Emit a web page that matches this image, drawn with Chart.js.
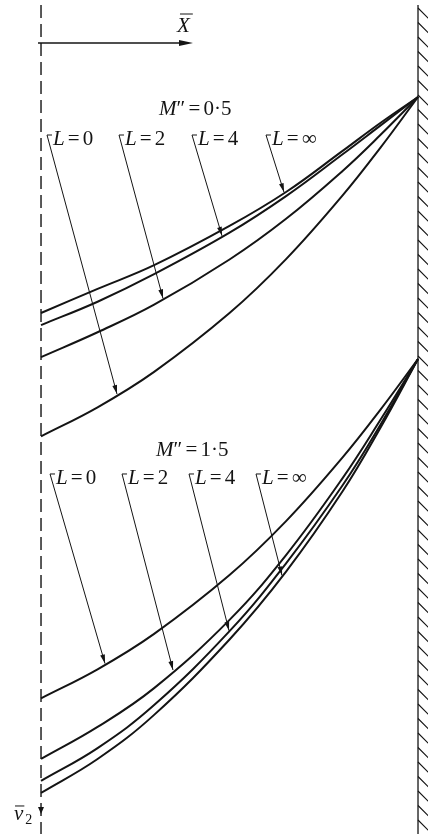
<!DOCTYPE html>
<html>
<head>
<meta charset="utf-8">
<script src="https://cdn.jsdelivr.net/npm/chart.js@4/dist/chart.umd.min.js"></script>
<style>
  html, body { margin: 0; padding: 0; background: #fff; }
  #wrap { position: relative; width: 428px; height: 834px; }
</style>
</head>
<body>
<div id="wrap"><canvas id="c"></canvas></div>
<script>
// Stations across the half-channel: 0 = centre line, 1 = wall
const xStations = [0, 0.15, 0.3, 0.5, 0.65, 0.8, 0.9, 1.0];

// Velocity defect below the wall value (in channel half-widths), M'' = 0.5
const m05_L0   = [0.900, 0.823, 0.729, 0.573, 0.430, 0.261, 0.135, 0];
const m05_L2   = [0.690, 0.624, 0.551, 0.431, 0.323, 0.196, 0.101, 0];
const m05_L4   = [0.605, 0.543, 0.470, 0.360, 0.263, 0.152, 0.076, 0];
const m05_Linf = [0.573, 0.509, 0.446, 0.342, 0.252, 0.143, 0.069, 0];

// Same profiles for M'' = 1.5
const m15_L0   = [0.900, 0.823, 0.729, 0.573, 0.430, 0.261, 0.135, 0];
const m15_L2   = [1.061, 0.976, 0.873, 0.692, 0.520, 0.316, 0.162, 0];
const m15_L4   = [1.119, 1.032, 0.918, 0.722, 0.542, 0.335, 0.175, 0];
const m15_Linf = [1.151, 1.061, 0.944, 0.744, 0.564, 0.351, 0.183, 0];

const curveNames = ['0', '2', '4', '\u221E'];        // values of L
const groupNames = ['0\u00B75', '1\u00B75'];         // values of M''

// Where each labelled arrow meets its curve (x station)
const m05_arrowTips = [0.2016, 0.3236, 0.4801, 0.6446];
const m15_arrowTips = [0.1698, 0.3501, 0.4987, 0.6393];

// ---- layout of the annotations (data units on each group's axes) ----
const groups = [
  { axis: 'yTop', name: groupNames[0], series: [m05_L0, m05_L2, m05_L4, m05_Linf],
    tips: m05_arrowTips, titleX: 0.313, titleY: 0.0477,
    tagX: [0.0159, 0.2069, 0.4005, 0.5968], tagY: 0.1008 },
  { axis: 'yBot', name: groupNames[1], series: [m15_L0, m15_L2, m15_L4, m15_Linf],
    tips: m15_arrowTips, titleX: 0.305, titleY: 0.2573,
    tagX: [0.0239, 0.2149, 0.3926, 0.5703], tagY: 0.3050 }
];

const ink = '#141414';
const serif = '"Liberation Serif", "Times New Roman", "DejaVu Serif", serif';

function valueAt(xs, ys, x) {
  for (let i = 0; i < xs.length - 1; i++) {
    if (x >= xs[i] && x <= xs[i + 1]) {
      const t = (x - xs[i]) / (xs[i + 1] - xs[i]);
      return ys[i] + t * (ys[i + 1] - ys[i]);
    }
  }
  return ys[ys.length - 1];
}

function arrowHead(ctx, x1, y1, x2, y2, len, half) {
  const a = Math.atan2(y2 - y1, x2 - x1);
  const c = Math.cos(a), s = Math.sin(a);
  ctx.beginPath();
  ctx.moveTo(x2, y2);
  ctx.lineTo(x2 - len * c + half * s, y2 - len * s - half * c);
  ctx.lineTo(x2 - len * c - half * s, y2 - len * s + half * c);
  ctx.closePath();
  ctx.fill();
}

// draw a run of [text, italic, gapAfterEm] pieces starting at x, baseline y
function richText(ctx, x, y, size, parts) {
  let cx = x;
  for (const [txt, ital, gap] of parts) {
    ctx.font = (ital ? 'italic ' : '') + size + 'px ' + serif;
    ctx.fillText(txt, cx, y);
    cx += ctx.measureText(txt).width + (gap || 0) * size;
  }
  return cx;
}

const annotations = {
  id: 'annotations',
  afterDatasetsDraw(chart) {
    const { ctx, scales } = chart;
    const xs = scales.x, yT = scales.yTop, yB = scales.yBot;
    const H = chart.height;
    ctx.save();
    ctx.fillStyle = ink;
    ctx.strokeStyle = ink;
    ctx.textBaseline = 'alphabetic';
    ctx.textAlign = 'left';

    // centre line (dashed)
    const cx = xs.getPixelForValue(0);
    ctx.lineWidth = 1.4;
    ctx.setLineDash([13, 6]);
    ctx.beginPath();
    ctx.moveTo(cx, 5);
    ctx.lineTo(cx, H);
    ctx.stroke();
    ctx.setLineDash([]);

    // wall with hatching
    const wx = xs.getPixelForValue(1);
    ctx.lineWidth = 1.3;
    ctx.beginPath();
    ctx.moveTo(wx, 5);
    ctx.lineTo(wx, H);
    ctx.stroke();
    ctx.lineWidth = 1.1;
    ctx.beginPath();
    for (let y = 8; y < H; y += 14.5) {
      ctx.moveTo(wx, y);
      ctx.lineTo(wx + 12, y + 12);
    }
    ctx.stroke();

    // X direction arrow and label
    const ay = yT.getPixelForValue(-0.1432);
    const ax2 = xs.getPixelForValue(0.4032);
    ctx.lineWidth = 1.4;
    ctx.beginPath();
    ctx.moveTo(cx - 3, ay);
    ctx.lineTo(ax2 - 8, ay);
    ctx.stroke();
    arrowHead(ctx, cx, ay, ax2, ay, 14, 3);
    const Xx = xs.getPixelForValue(0.3607);
    const Xy = yT.getPixelForValue(-0.1724);
    ctx.font = 'italic 21px ' + serif;
    ctx.fillText('X', Xx, Xy);
    const xw = ctx.measureText('X').width;
    ctx.lineWidth = 1;
    ctx.beginPath();
    ctx.moveTo(Xx + 3, Xy - 18);
    ctx.lineTo(Xx + xw + 3, Xy - 18);
    ctx.stroke();

    // v2 label and its arrow on the centre line
    const vx = xs.getPixelForValue(-0.0716);
    const vy = yB.getPixelForValue(1.2228);
    ctx.font = 'italic 21px ' + serif;
    ctx.fillText('v', vx, vy);
    const vw = ctx.measureText('v').width;
    ctx.beginPath();
    ctx.moveTo(vx + 1, vy - 14);
    ctx.lineTo(vx + vw + 1, vy - 14);
    ctx.stroke();
    ctx.font = '14px ' + serif;
    ctx.fillText('2', vx + vw + 2, vy + 4);
    arrowHead(ctx, cx, vy - 14, cx, vy - 6, 7, 3);

    // group titles, curve tags and leader arrows
    for (const g of groups) {
      const ys = scales[g.axis];
      richText(ctx, xs.getPixelForValue(g.titleX), ys.getPixelForValue(g.titleY), 21,
        [['M', true, 0], ['\u2033', false, 0.15], ['=', false, 0.15], [g.name, false, 0]]);
      for (let i = 0; i < 4; i++) {
        const bx = xs.getPixelForValue(g.tagX[i]);
        const by = ys.getPixelForValue(g.tagY);
        const tx = xs.getPixelForValue(g.tips[i]);
        const ty = ys.getPixelForValue(valueAt(xStations, g.series[i], g.tips[i]));
        ctx.lineWidth = 1;
        ctx.beginPath();
        ctx.moveTo(bx + 5, by);
        ctx.lineTo(bx, by);
        ctx.lineTo(tx, ty - 1);
        ctx.stroke();
        arrowHead(ctx, bx, by, tx, ty - 1, 9, 2.4);
        richText(ctx, bx + 6, by + 10, 21,
          [['L', true, 0.15], ['=', false, 0.15], [curveNames[i], false, 0]]);
      }
    }
    ctx.restore();
  }
};

function profile(ys) {
  return xStations.map((x, i) => ({ x: x, y: ys[i] }));
}

const lineStyle = {
  borderColor: ink, borderWidth: 2, pointRadius: 0, fill: false, tension: 0.4
};

const datasets = [];
groups.forEach((g) => {
  g.series.forEach((s, si) => {
    datasets.push(Object.assign({
      label: 'M\u2033=' + g.name + ', L=' + curveNames[si],
      data: profile(s), yAxisID: g.axis
    }, lineStyle));
  });
});

function build() {
  new Chart(document.getElementById('c'), {
    type: 'line',
    data: { datasets },
    options: {
      responsive: true,
      maintainAspectRatio: false,
      animation: false,
      layout: { padding: 0 },
      plugins: { legend: { display: false }, tooltip: { enabled: false } },
      scales: {
        x: { type: 'linear', min: -0.1088, max: 1.0265, display: false },
        yTop: { type: 'linear', reverse: true, min: -0.2573, max: 1.9549, display: false },
        yBot: { type: 'linear', reverse: true, min: -0.9523, max: 1.2600, display: false }
      }
    },
    plugins: [annotations]
  });
}

Promise.all([
  document.fonts.load('21px "Liberation Serif"'),
  document.fonts.load('italic 21px "Liberation Serif"')
]).then(build, build);
</script>
</body>
</html>
